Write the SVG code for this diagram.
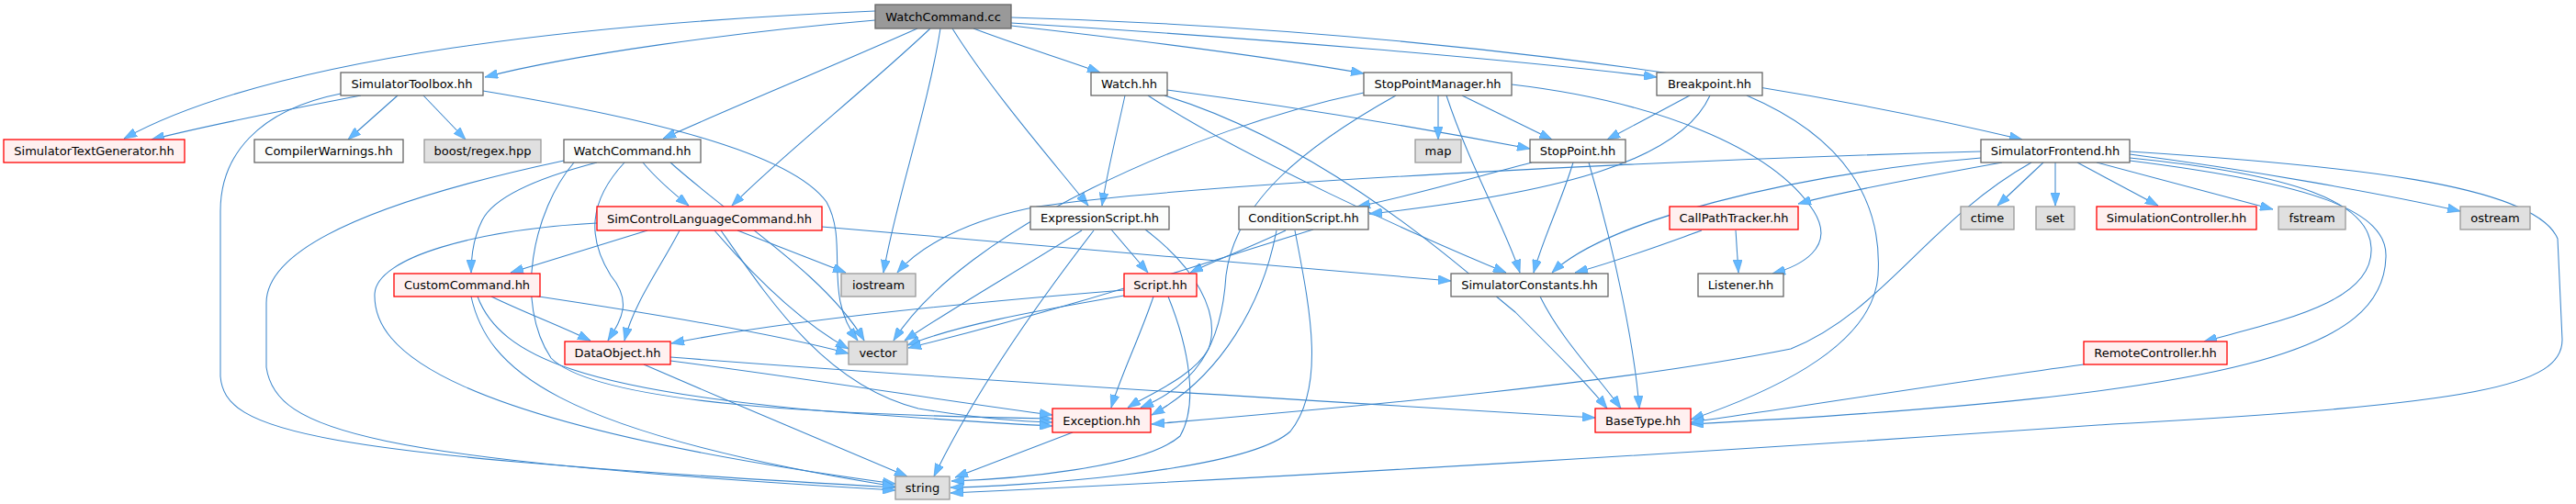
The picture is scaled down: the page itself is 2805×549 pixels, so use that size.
<svg xmlns="http://www.w3.org/2000/svg" width="2805" height="549" viewBox="0 0 2805 549">
<style>
.n rect{stroke-width:1.3}
.w rect{fill:#fcfdfc;stroke:#666666}
.r rect{fill:#fff0f0;stroke:#ff0000}
.g rect{fill:#e0e0e0;stroke:#999999}
.m rect{fill:#999999;stroke:#666666}
text{font-family:"DejaVu Sans","Liberation Sans",sans-serif;font-size:13px;fill:#000;text-anchor:middle}
#edges path{fill:none;stroke:#3d87cc;stroke-width:1.05;marker-end:url(#a)}
</style>
<defs>
<marker id="a" viewBox="0 0 14 10" refX="14" refY="5" markerWidth="14" markerHeight="10" markerUnits="userSpaceOnUse" orient="auto">
<path d="M0,0 L14,5 L0,10 z" fill="#63b8ff" stroke="#4a9be0" stroke-width="0.6"/>
</marker>
</defs>
<rect width="2805" height="549" fill="#ffffff"/>
<g id="edges">
<!-- WatchCommand.cc -->
<path d="M953,22 C800,35 620,60 528,84"/>
<path d="M953,12 C650,25 300,60 135,151"/>
<path d="M999,31 C900,75 790,120 722,151"/>
<path d="M1013,31 C940,100 850,170 797,224"/>
<path d="M1024,31 C1010,120 975,220 962,297"/>
<path d="M1037,31 C1080,100 1150,180 1185,224"/>
<path d="M1060,31 C1110,50 1160,65 1198,79"/>
<path d="M1101,28 C1250,45 1400,65 1485,80"/>
<path d="M1101,25 C1350,40 1650,65 1804,84"/>
<path d="M1101,19 C1500,30 1900,80 2202,152"/>
<!-- SimulatorToolbox -->
<path d="M393,104 C320,118 220,138 165,152"/>
<path d="M433,104 L379,152"/>
<path d="M461,104 L507,152"/>
<path d="M371,102 C280,120 240,170 240,230 L240,410 C245,470 330,495 975,531"/>
<path d="M526,99 C700,128 860,165 900,220 C925,265 895,320 934,371"/>
<!-- WatchCommand.hh -->
<path d="M700,177 C715,195 735,212 750,224"/>
<path d="M650,177 C600,190 540,210 525,240 C515,260 513,280 513,297"/>
<path d="M680,177 C640,220 640,260 665,300 C690,330 675,350 662,371"/>
<path d="M730,177 C800,240 900,300 941,371"/>
<path d="M625,177 C580,230 560,330 600,390 C650,440 900,452 1146,456"/>
<path d="M614,175 C450,210 290,260 290,330 L290,400 C300,470 400,500 975,534"/>
<!-- SimControlLanguageCommand -->
<path d="M705,251 L556,297"/>
<path d="M740,251 C720,290 690,330 680,371"/>
<path d="M803,251 L921,297"/>
<path d="M778,251 C820,300 870,350 924,380"/>
<path d="M785,251 C840,330 900,420 1000,445 C1060,455 1100,459 1146,460"/>
<path d="M650,243 C520,250 410,280 408,320 C406,380 480,460 975,527"/>
<path d="M895,247 C1100,265 1400,290 1580,306"/>
<!-- CustomCommand -->
<path d="M535,323 C570,340 610,355 643,371"/>
<path d="M580,322 C700,340 850,365 924,385"/>
<path d="M520,323 C545,390 640,425 900,448 C1000,455 1080,461 1146,464"/>
<path d="M513,323 C530,400 600,470 975,530"/>
<!-- DataObject -->
<path d="M730,393 C900,415 1050,440 1146,452"/>
<path d="M730,389 C1000,410 1400,435 1737,455"/>
<path d="M701,397 C800,440 920,490 988,519"/>
<!-- Exception -->
<path d="M1168,471 L1040,520"/>
<!-- ExpressionScript -->
<path d="M1210,250 L1250,297"/>
<path d="M1178,251 C1100,300 1030,340 985,371"/>
<path d="M1247,250 C1300,290 1330,340 1316,380 C1300,410 1250,430 1228,444"/>
<path d="M1191,251 C1130,330 1060,430 1017,519"/>
<!-- Script -->
<path d="M1224,316 C1050,330 850,350 731,374"/>
<path d="M1224,322 C1120,340 1040,355 988,376"/>
<path d="M1256,323 C1240,370 1220,410 1210,444"/>
<path d="M1272,323 C1295,380 1305,440 1285,475 C1245,510 1100,522 1036,524"/>
<!-- ConditionScript -->
<path d="M1400,251 C1360,270 1320,285 1296,297"/>
<path d="M1430,250 C1300,290 1150,340 989,379"/>
<path d="M1390,251 C1375,330 1330,410 1254,452"/>
<path d="M1410,251 C1425,330 1445,420 1405,470 C1355,515 1100,530 1035,531"/>
<!-- Watch.hh -->
<path d="M1225,104 C1215,150 1205,190 1200,224"/>
<path d="M1271,98 C1400,115 1550,140 1666,162"/>
<path d="M1250,104 C1350,170 1550,260 1640,297"/>
<path d="M1268,104 C1450,160 1600,300 1650,340 C1700,390 1730,420 1750,445"/>
<!-- StopPointManager -->
<path d="M1566,104 L1566,152"/>
<path d="M1592,104 L1690,152"/>
<path d="M1575,104 C1600,180 1640,250 1655,297"/>
<path d="M1646,92 C1800,110 1930,160 1975,230 C2000,270 1960,290 1930,298"/>
<path d="M1485,101 C1300,140 1050,250 973,371"/>
<path d="M1520,104 C1420,160 1345,220 1335,300 C1330,380 1300,420 1242,444"/>
<!-- StopPoint -->
<path d="M1668,177 C1580,200 1530,215 1478,225"/>
<path d="M1713,177 C1700,220 1680,260 1670,297"/>
<path d="M1730,177 C1760,280 1780,380 1785,445"/>
<!-- Breakpoint -->
<path d="M1840,104 L1750,152"/>
<path d="M1862,104 C1830,175 1700,210 1491,233"/>
<path d="M1902,104 C2010,150 2050,220 2045,300 C2040,370 1950,420 1841,457"/>
<!-- SimulatorFrontend -->
<path d="M2157,165 C1800,175 1300,200 1130,225 C1050,240 1000,270 977,297"/>
<path d="M2157,172 C1950,190 1750,240 1690,297"/>
<path d="M2180,177 C2080,195 2000,210 1958,222"/>
<path d="M2212,177 C2100,240 2050,340 1950,380 C1750,420 1450,445 1254,462"/>
<path d="M2225,177 L2175,224"/>
<path d="M2238,177 L2238,224"/>
<path d="M2262,177 L2350,224"/>
<path d="M2283,177 L2475,228"/>
<path d="M2319,168 C2450,185 2600,212 2679,230"/>
<path d="M2319,172 C2500,190 2580,220 2582,270 C2585,330 2480,350 2400,372"/>
<path d="M2319,175 C2520,200 2600,230 2598,280 C2595,380 2450,430 1841,462"/>
<path d="M2319,165 C2550,180 2760,200 2785,260 L2790,370 C2790,420 2700,440 2300,462 C1900,490 1400,520 1035,537"/>
<!-- CallPathTracker -->
<path d="M1853,251 C1800,270 1760,285 1715,297"/>
<path d="M1890,251 L1893,297"/>
<!-- others -->
<path d="M1677,323 C1700,370 1740,410 1765,445"/>
<path d="M2269,397 C2100,420 1950,445 1841,460"/>
</g>
<g id="WatchCommand_cc" class="n m"><rect x="953" y="5" width="148" height="26"/><text x="1027" y="23">WatchCommand.cc</text></g>
<g id="SimulatorToolbox_hh" class="n w"><rect x="371" y="79" width="155" height="25"/><text x="448.5" y="96">SimulatorToolbox.hh</text></g>
<g id="SimulatorTextGenerator_hh" class="n r"><rect x="4" y="152" width="197" height="25"/><text x="102.5" y="169">SimulatorTextGenerator.hh</text></g>
<g id="CompilerWarnings_hh" class="n w"><rect x="277" y="152" width="162" height="25"/><text x="358" y="169">CompilerWarnings.hh</text></g>
<g id="boost_regex_hpp" class="n g"><rect x="462" y="152" width="127" height="25"/><text x="525.5" y="169">boost/regex.hpp</text></g>
<g id="WatchCommand_hh" class="n w"><rect x="614" y="152" width="149" height="25"/><text x="688.5" y="169">WatchCommand.hh</text></g>
<g id="Watch_hh" class="n w"><rect x="1188" y="79" width="83" height="25"/><text x="1229.5" y="96">Watch.hh</text></g>
<g id="StopPointManager_hh" class="n w"><rect x="1485" y="79" width="161" height="25"/><text x="1565.5" y="96">StopPointManager.hh</text></g>
<g id="Breakpoint_hh" class="n w"><rect x="1804" y="79" width="115" height="25"/><text x="1861.5" y="96">Breakpoint.hh</text></g>
<g id="map" class="n g"><rect x="1541" y="152" width="50" height="25"/><text x="1566" y="169">map</text></g>
<g id="StopPoint_hh" class="n w"><rect x="1666" y="152" width="104" height="25"/><text x="1718" y="169">StopPoint.hh</text></g>
<g id="SimulatorFrontend_hh" class="n w"><rect x="2157" y="152" width="162" height="25"/><text x="2238" y="169">SimulatorFrontend.hh</text></g>
<g id="SimControlLanguageCommand_hh" class="n r"><rect x="650" y="225" width="245" height="26"/><text x="772.5" y="243">SimControlLanguageCommand.hh</text></g>
<g id="ExpressionScript_hh" class="n w"><rect x="1122" y="225" width="151" height="25"/><text x="1197.5" y="242">ExpressionScript.hh</text></g>
<g id="ConditionScript_hh" class="n w"><rect x="1349" y="225" width="141" height="25"/><text x="1419.5" y="242">ConditionScript.hh</text></g>
<g id="CallPathTracker_hh" class="n r"><rect x="1818" y="225" width="140" height="25"/><text x="1888" y="242">CallPathTracker.hh</text></g>
<g id="ctime" class="n g"><rect x="2135" y="225" width="58" height="25"/><text x="2164" y="242">ctime</text></g>
<g id="set" class="n g"><rect x="2217" y="225" width="42" height="25"/><text x="2238" y="242">set</text></g>
<g id="SimulationController_hh" class="n r"><rect x="2283" y="225" width="174" height="25"/><text x="2370" y="242">SimulationController.hh</text></g>
<g id="fstream" class="n g"><rect x="2481" y="225" width="73" height="25"/><text x="2517.5" y="242">fstream</text></g>
<g id="ostream" class="n g"><rect x="2679" y="225" width="76" height="25"/><text x="2717" y="242">ostream</text></g>
<g id="CustomCommand_hh" class="n r"><rect x="429" y="298" width="159" height="25"/><text x="508.5" y="315">CustomCommand.hh</text></g>
<g id="iostream" class="n g"><rect x="916" y="298" width="81" height="25"/><text x="956.5" y="315">iostream</text></g>
<g id="Script_hh" class="n r"><rect x="1224" y="298" width="79" height="25"/><text x="1263.5" y="315">Script.hh</text></g>
<g id="SimulatorConstants_hh" class="n w"><rect x="1580" y="298" width="171" height="25"/><text x="1665.5" y="315">SimulatorConstants.hh</text></g>
<g id="Listener_hh" class="n w"><rect x="1849" y="298" width="93" height="25"/><text x="1895.5" y="315">Listener.hh</text></g>
<g id="DataObject_hh" class="n r"><rect x="615" y="372" width="115" height="25"/><text x="672.5" y="389">DataObject.hh</text></g>
<g id="vector" class="n g"><rect x="924" y="372" width="64" height="25"/><text x="956" y="389">vector</text></g>
<g id="RemoteController_hh" class="n r"><rect x="2269" y="372" width="156" height="25"/><text x="2347" y="389">RemoteController.hh</text></g>
<g id="Exception_hh" class="n r"><rect x="1146" y="445" width="107" height="26"/><text x="1199.5" y="463">Exception.hh</text></g>
<g id="BaseType_hh" class="n r"><rect x="1737" y="445" width="104" height="26"/><text x="1789" y="463">BaseType.hh</text></g>
<g id="string" class="n g"><rect x="975" y="519" width="59" height="25"/><text x="1004.5" y="536">string</text></g>
</svg>
